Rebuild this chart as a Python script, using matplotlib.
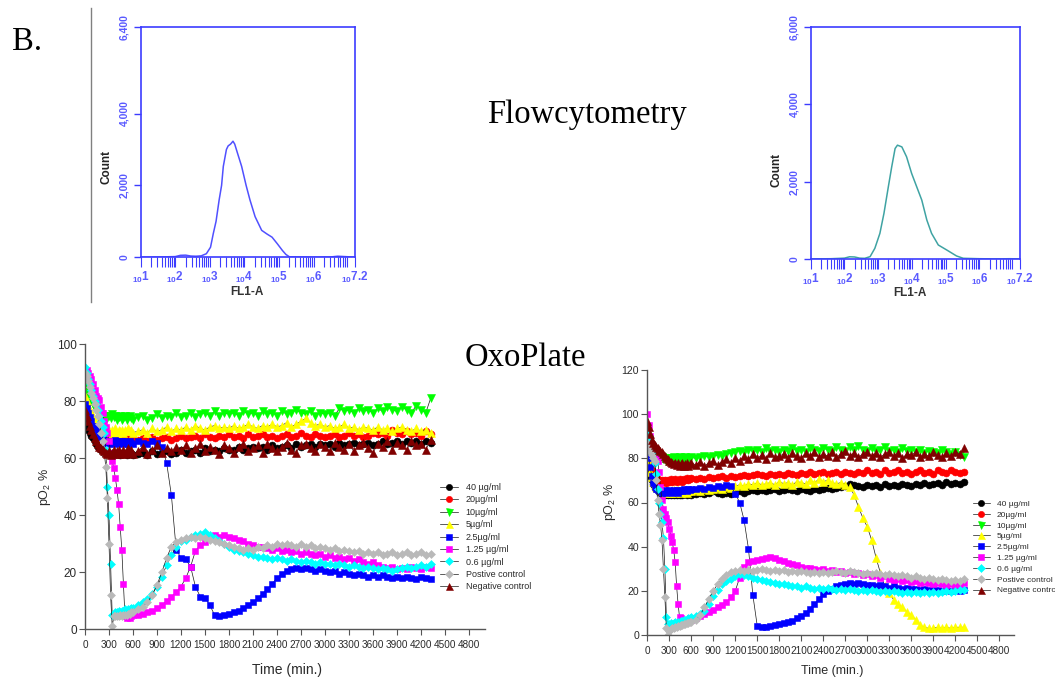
import numpy as np
import matplotlib.pyplot as plt
import matplotlib.ticker as mticker
from matplotlib.lines import Line2D

plt.rcParams['font.family'] = ['Liberation Sans', 'DejaVu Sans']
plt.rcParams['mathtext.default'] = 'regular'

# ---------------- flow cytometry histograms (FL1-A in log10 units) ----------------
fl_log_a = [1.0, 1.6, 2.0, 2.15, 2.3, 2.45, 2.6, 2.75, 2.9, 3.02, 3.10, 3.18, 3.27,
            3.34, 3.39, 3.48, 3.53, 3.60, 3.67, 3.72, 3.80, 3.92, 4.05, 4.16, 4.31,
            4.50, 4.65, 4.80, 4.95, 5.10, 5.20, 5.30, 5.6, 6.0, 6.5, 6.7, 6.8, 6.9, 7.2]
count_a = [5, 10, 20, 55, 60, 35, 30, 40, 100, 280, 660, 1000, 1600,
           2000, 2530, 3000, 3100, 3150, 3230, 3150, 2900, 2530, 2000, 1600, 1130,
           750, 650, 560, 380, 190, 80, 15, 10, 5, 10, 30, 25, 20, 5]

fl_log_b = [1.0, 1.6, 2.0, 2.15, 2.3, 2.45, 2.6, 2.76, 2.90, 3.05, 3.17, 3.30, 3.40,
            3.50, 3.57, 3.70, 3.84, 3.99, 4.14, 4.29, 4.44, 4.58, 4.78, 5.03, 5.32,
            5.52, 6.0, 6.5, 6.9, 7.2]
count_b = [10, 15, 30, 65, 60, 30, 25, 69, 283, 670, 1185, 1871, 2386,
           2858, 2944, 2900, 2644, 2215, 1871, 1528, 1013, 670, 369, 240, 86,
           26, 15, 10, 15, 10]

# ---------------- OxoPlate pO2 readings ----------------
time_min = [0, 20, 40, 60, 80, 100, 120, 140, 160, 180,
            200, 220, 240, 260, 280, 300, 320, 340, 360, 380,
            400, 420, 440, 460, 480, 500, 520, 540, 560, 580, 600,
            660, 720, 780, 840, 900, 960, 1020, 1080, 1140, 1200,
            1260, 1320, 1380, 1440, 1500, 1560, 1620, 1680, 1740, 1800,
            1860, 1920, 1980, 2040, 2100, 2160, 2220, 2280, 2340, 2400,
            2460, 2520, 2580, 2640, 2700, 2760, 2820, 2880, 2940, 3000,
            3060, 3120, 3180, 3240, 3300, 3360, 3420, 3480, 3540, 3600,
            3660, 3720, 3780, 3840, 3900, 3960, 4020, 4080, 4140, 4200, 4260, 4320]

# plate 1
p1_40 = [73, 71, 70, 69, 68, 67, 66, 65, 64, 63.5,
         63, 62.5, 62, 62, 61.5, 62, 61.5, 62, 61, 62,
         61.5, 62, 61, 62, 61.5, 62, 61, 62, 61.5, 62, 61,
         61.5, 62, 61, 62.5, 61.5, 62, 62.5, 61.5, 62, 63,
         62, 62.5, 63, 62, 63.5, 62.5, 63, 62.5, 63.5, 63,
         63, 64, 63, 63.5, 64, 63.5, 64, 63, 64.5, 63.5,
         64, 64.5, 63.5, 65, 64, 64.5, 65, 64, 65, 64.5,
         65, 64, 65.5, 64.5, 65, 65.5, 64.5, 65, 65.5, 64.5,
         65, 66, 65, 65.5, 66, 65, 66, 65.5, 66, 65, 66, 65.5]
p1_20 = [81, 79, 77, 75.5, 74, 72.5, 71, 70, 69, 68,
         67.5, 67, 66.5, 66, 66.5, 66, 66.5, 65.5, 66.5, 66,
         67, 66, 66.5, 67, 66, 66.5, 67, 66, 67, 66.5, 67,
         66.5, 67, 66, 67.5, 66.5, 67, 67.5, 66.5, 67, 68,
         67, 67.5, 68, 67, 68.5, 67.5, 67, 68, 67.5, 68.5,
         67.5, 68, 67, 68.5, 67.5, 68, 68.5, 67.5, 68, 67,
         68, 68.5, 67.5, 68, 69, 68, 67.5, 68.5, 68, 67.5,
         68, 68.5, 67.5, 68, 69, 68, 68.5, 67.5, 68, 69,
         68.5, 69, 68, 70, 69, 68.5, 69.5, 68.5, 69, 68, 69.5, 68.5]
p1_10 = [86, 84, 82.5, 81, 80, 79, 78, 77, 76.5, 76,
         75.5, 75, 74.5, 75, 74, 75, 74, 75.5, 74.5, 75,
         73.5, 74.5, 75, 73.5, 74, 75, 73.5, 74.5, 75, 74, 73.5,
         74.5, 75, 73.5, 74, 75.5, 74, 75, 74.5, 76, 74.5,
         75, 76, 74.5, 75.5, 76, 75, 76.5, 75, 76, 75.5,
         76, 75, 76.5, 75.5, 76, 75, 76.5, 75.5, 76, 75,
         76.5, 75.5, 76, 77, 76, 75.5, 76.5, 75, 76, 75.5,
         76, 75, 77.5, 76.5, 77, 76, 77.5, 76.5, 77, 76,
         77.5, 76.5, 78, 77, 76.5, 78, 77, 76, 78.5, 77, 76, 81]
p1_5 = [82, 80, 78.5, 77, 75.5, 74.5, 73.5, 72.5, 72, 71.5,
        71, 70.5, 70, 70.5, 69.5, 70, 69, 70, 69.5, 70.5,
        69, 70, 69.5, 70, 69, 70, 69.5, 70.5, 69.5, 70, 69,
        69.5, 70, 69, 70.5, 69.5, 70, 71, 69.5, 70.5, 70,
        71, 70, 71.5, 70.5, 70, 71, 71.5, 70.5, 71, 70.5,
        71.5, 70.5, 71, 72, 71, 70.5, 71.5, 71, 72, 71,
        71.5, 72.5, 71, 72, 73, 74, 72.5, 71.5, 72, 71,
        71.5, 70.5, 71, 72, 70.5, 71, 70, 71, 70.5, 70,
        71, 70, 70.5, 69.5, 70.5, 71, 70, 69.5, 70.5, 69.5, 70, 69]
p1_2p5 = [79, 77.5, 76, 74.5, 73, 71.5, 70.5, 69.5, 68.5, 68,
          67.5, 67, 66.5, 66, 65.5, 66, 65, 66, 65.5, 66.5,
          65, 66, 65.5, 66, 65, 66, 65.5, 65, 66, 65.5, 65,
          66, 65.5, 65, 66, 65.5, 64, 58.5, 47, 28, 25,
          24.5, 22, 15, 11.5, 11, 8.5, 5, 4.5, 5, 5.5,
          6, 6.5, 7.5, 8.5, 9.5, 11, 12.5, 14, 16, 18,
          19.5, 20.5, 21, 21.5, 21, 21.5, 21, 20.5, 21, 20.5,
          20, 20.5, 19.5, 20, 19.5, 19, 19.5, 19, 18.5, 19,
          18.5, 19, 18.5, 18, 18.5, 18, 18.5, 18, 17.5, 18.5, 18, 17.5]
p1_1p25 = [90, 91, 90, 89, 88, 86, 84, 82, 81, 80.5,
           78, 76, 73, 71, 69, 66, 62, 59, 56.5, 53,
           49, 44, 36, 28, 16, 4.5, 4, 4.5, 4, 4.5, 5,
           5, 5.5, 6, 6.5, 7.5, 8.5, 10, 11.5, 13, 15,
           18, 22, 27.5, 29.5, 30.5, 32, 33, 32.5, 33, 32.5,
           32, 31.5, 31, 30, 29.5, 29, 29, 28.5, 28, 28.5,
           27.5, 28, 27, 27.5, 26.5, 27, 26.5, 26, 26.5, 25.5,
           26, 25, 25.5, 24.5, 25, 24, 24.5, 23.5, 23, 23.5,
           22.5, 22, 21.5, 22, 21, 21.5, 21, 22, 21.5, 21, 22, 21.5]
p1_0p6 = [92, 90, 88, 86, 84, 82, 80, 79, 77, 75,
          73, 71, 69, 63, 50, 40, 23, 5, 5.5, 6,
          6, 6.5, 6, 6.5, 6.5, 7, 6.5, 7, 7, 7.5, 7.5,
          8.5, 9.5, 10.5, 12.5, 15, 18.5, 22.5, 26, 29, 31,
          31.5, 32.5, 33, 33.5, 34, 33, 32, 31, 30, 29,
          28, 27.5, 27, 26.5, 26, 25.5, 25.5, 25, 24.5, 25,
          24.5, 24, 24.5, 24, 23.5, 24, 23.5, 23, 23.5, 23,
          23, 22.5, 23, 22.5, 22, 22.5, 22, 21.5, 22, 21.5,
          21, 21.5, 21, 20.5, 21, 21.5, 22, 21.5, 22, 22.5, 22, 23]
p1_pos = [90, 89, 87, 85, 83, 81, 79, 77, 75, 72,
          69, 66, 62, 57, 46, 30, 12, 1, 4.5, 4.5,
          4.5, 4.5, 5, 4.5, 5, 5, 5, 5.5, 5.5, 6, 6,
          7, 8, 9.5, 12, 15.5, 20, 25, 29, 30.5, 31.5,
          32, 32.5, 32, 32.5, 32, 31.5, 31, 30.5, 30, 29.5,
          29, 28.5, 28, 28.5, 28, 29, 28.5, 29.5, 29, 30,
          29.5, 30, 29.5, 29, 30, 29, 29.5, 28.5, 29, 28.5,
          28, 28.5, 27.5, 28, 27.5, 27, 27.5, 26.5, 27, 26.5,
          27, 26, 26.5, 27, 26, 26.5, 27, 26, 26.5, 27, 26, 26.5]
p1_neg = [77, 75, 73, 71.5, 70, 68.5, 67, 66, 65, 64,
          63.5, 63, 62.5, 62, 61.5, 62.5, 61, 62, 63, 61.5,
          62.5, 63, 61.5, 62, 63, 61.5, 62.5, 63.5, 62, 63, 61.5,
          62.5, 64, 61.5, 63, 64.5, 62, 63.5, 62.5, 64, 63,
          64.5, 62, 63.5, 65, 62.5, 64, 63, 61.5, 64.5, 63.5,
          62, 64, 65, 62.5, 63.5, 64.5, 62, 65, 63.5, 62.5,
          64, 65.5, 63, 62, 64.5, 65, 63.5, 62.5, 65, 64,
          62.5, 65.5, 64, 63, 65, 62.5, 64.5, 65.5, 63.5, 62,
          65, 64, 66, 63, 65.5, 64.5, 63, 66, 64.5, 65, 63, 66.5]

# plate 2
p2_40 = [76, 74, 72, 70, 68.5, 67, 66, 65.5, 65, 64.5,
         64, 64.5, 63.5, 64, 63.5, 64, 63.5, 64, 63.5, 64,
         63.5, 64.5, 63.5, 64, 63.5, 64, 64.5, 63.5, 64, 64.5, 63.5,
         64, 64.5, 64, 64.5, 65, 64.5, 64, 64.5, 64, 64.5,
         65, 64.5, 65, 65.5, 65, 65.5, 65, 65.5, 66, 65,
         65.5, 66, 65.5, 65, 66, 65.5, 65, 66, 65.5, 66,
         66.5, 66, 66.5, 67, 67.5, 68.5, 68, 67.5, 67, 68,
         67.5, 68, 67, 68.5, 67.5, 68, 67.5, 68.5, 68, 67.5,
         68.5, 68, 69, 68, 68.5, 69, 68, 69.5, 68.5, 69, 68.5, 69.5]
p2_20 = [84, 80, 77, 74.5, 73, 72, 71, 70.5, 70, 69.5,
         70, 69.5, 70, 69, 70, 69.5, 70.5, 69.5, 70, 70.5,
         69.5, 70, 70.5, 70, 69.5, 70.5, 70, 71, 70, 70.5, 71,
         70.5, 71, 70.5, 71.5, 71, 71.5, 72, 71, 72, 71.5,
         72, 72.5, 72, 72.5, 73, 72.5, 72, 73, 72.5, 73,
         72.5, 73.5, 73, 72.5, 73.5, 73, 74, 73, 73.5, 74,
         73, 73.5, 74, 73, 74, 73.5, 73, 74, 73.5, 74.5,
         73.5, 74, 73, 74.5, 73.5, 74, 74.5, 73.5, 74, 73,
         74, 74.5, 73.5, 74, 73, 74.5, 74, 73.5, 74.5, 74, 73.5, 74]
p2_10 = [90, 88, 86, 84.5, 83, 82, 81.5, 81, 80.5, 80,
         80.5, 79.5, 80, 79, 80, 79.5, 80, 79, 80.5, 79.5,
         80, 79, 80.5, 79.5, 80, 79, 80.5, 80, 79.5, 80, 80.5,
         80, 80.5, 81, 80.5, 81, 81.5, 81, 82, 82.5, 83,
         83.5, 83, 84, 83.5, 84, 83, 84.5, 83.5, 84, 83,
         84, 83.5, 84.5, 83.5, 84, 83, 84.5, 84, 83.5, 84.5,
         84, 83.5, 85, 84, 83.5, 85, 84, 85.5, 84, 83.5,
         84.5, 83.5, 84, 85, 83.5, 84, 83, 84.5, 83.5, 84,
         83, 84, 82.5, 83.5, 83, 82.5, 84, 83, 82, 83, 81.5, 80.5]
p2_5 = [80, 77, 74, 71.5, 69.5, 68, 67, 66.5, 66, 65.5,
        65, 65.5, 64.5, 65, 64.5, 65, 64.5, 65, 65.5, 64.5,
        65, 65.5, 65, 64.5, 65, 65.5, 65, 64.5, 65, 65.5, 65,
        65.5, 65, 66, 65.5, 66, 66.5, 66, 67, 66.5, 67.5,
        68, 67.5, 68.5, 68, 69, 68, 68.5, 69, 68, 69.5,
        68.5, 69, 68, 69.5, 69, 68.5, 70, 69, 70.5, 69.5,
        70, 69, 68.5, 69, 68, 67, 63.5, 58, 53, 49,
        43, 35, 28, 22, 19, 16, 14, 12.5, 10.5, 9,
        7, 4.5, 3.5, 3, 3, 3.5, 3, 3.5, 3, 3.5, 3.5, 3.5]
p2_2p5 = [83, 80, 76, 72, 69, 67, 66, 65.5, 65, 65.5,
          64.5, 65, 65.5, 64.5, 65, 65.5, 65, 64.5, 65.5, 65,
          65.5, 64.5, 65, 65.5, 65, 66, 65.5, 65, 66, 65.5, 66,
          66, 66.5, 66, 67, 66.5, 67.5, 67, 68, 67.5, 64,
          60, 52, 39, 18, 4, 3.5, 3.5, 4, 4.5, 5,
          5.5, 6, 6.5, 7.5, 8.5, 10, 12, 14, 16.5, 18.5,
          20, 21, 22, 22.5, 23, 23.5, 23, 23.5, 23, 22.5,
          22.5, 22, 22.5, 22, 21.5, 22, 21.5, 21, 21.5, 21,
          21, 20.5, 21, 20.5, 21, 20.5, 20, 20.5, 20, 20.5, 20, 20.5]
p2_1p25 = [100, 95, 90, 86, 83, 81, 80, 79, 74, 67,
           61, 57, 55, 53, 51, 48, 45, 42, 38.5, 33,
           22, 14, 8, 7.5, 7, 6.5, 7, 6.5, 7, 7.5, 7,
           7.5, 8.5, 9.5, 10.5, 11.5, 12.5, 13.5, 15, 17, 20,
           26, 31, 33, 33.5, 34, 34.5, 35, 35.5, 35, 34,
           33.5, 32.5, 32, 31.5, 31, 30.5, 30.5, 30, 29.5, 30,
           29, 29.5, 28.5, 29, 28, 28.5, 27.5, 28, 27, 27.5,
           26.5, 27, 26, 26.5, 25.5, 25, 25.5, 24.5, 25, 24,
           24.5, 23.5, 24, 23.5, 23, 23.5, 23, 22.5, 23, 22.5, 23, 23.5]
p2_0p6 = [92, 90, 88, 85, 82, 78, 73, 66, 60, 55,
          51, 44, 30, 8, 5, 5, 5.5, 5, 5.5, 6,
          5.5, 6, 6, 6.5, 6.5, 7, 7, 7, 7.5, 7.5, 8,
          8.5, 9.5, 11, 14, 17.5, 20.5, 23, 24.5, 25.5, 26.5,
          27.5, 27, 26.5, 26, 25.5, 25, 24.5, 24, 23.5, 23,
          23, 22.5, 22, 22, 21.5, 22, 21.5, 21, 21.5, 21,
          21.5, 21, 20.5, 21, 20.5, 21, 20.5, 20, 20.5, 20,
          20.5, 20, 19.5, 20, 19.5, 20, 19.5, 19, 19.5, 19,
          19.5, 19, 19.5, 19, 19.5, 19, 19.5, 20, 19.5, 20, 20.5, 20.5]
p2_pos = [87, 85, 83, 81.5, 80, 79, 70, 61, 55, 50,
          43, 30, 17, 3, 0, 2, 2.5, 3, 3, 3.5,
          3.5, 4, 4, 4.5, 4.5, 5, 5, 5.5, 5.5, 6, 6,
          7, 9, 12.5, 16.5, 20, 23, 25.5, 27, 28.5, 29,
          29.5, 29, 29.5, 29, 29.5, 30, 29.5, 29, 29.5, 29,
          29.5, 28.5, 29, 28.5, 29, 28.5, 28, 28.5, 28, 28.5,
          28, 28.5, 29, 28.5, 28, 29, 28.5, 28, 27.5, 28,
          27.5, 28, 27.5, 27, 27.5, 27, 26.5, 27, 26.5, 26,
          26.5, 26, 25.5, 26, 25.5, 25, 25.5, 25, 24.5, 25, 24.5, 25.5]
p2_neg = [97, 94, 91, 88.5, 87, 86, 85, 84.5, 84, 83.5,
          83, 82, 81, 80, 79.5, 79, 78.5, 78, 77.5, 78,
          77, 78, 76.5, 77.5, 78, 76.5, 77.5, 78, 76.5, 77.5, 78,
          77, 78.5, 76.5, 78, 79, 77, 78.5, 79.5, 78, 80,
          79, 81, 79.5, 82, 80, 81.5, 79.5, 82.5, 80.5, 81,
          82, 80, 82.5, 81, 80, 82.5, 81, 83, 80.5, 82,
          81, 83, 80.5, 82, 83.5, 81, 82.5, 80.5, 82, 83,
          81, 82.5, 80.5, 82, 83, 81, 82.5, 80, 82, 81.5,
          83, 80.5, 82, 81, 83, 81.5, 80.5, 82.5, 81, 83, 82, 84.5]

labels_p1 = ["40 µg/ml", "20µg/ml", "10µg/ml", "5µg/ml", "2.5µg/ml",
             "1.25 µg/ml", "0.6 µg/ml", "Postive control", "Negative control"]
labels_p2 = ["40 µg/ml", "20µg/ml", "10µg/ml", "5µg/ml", "2.5µg/ml",
             "1.25 µg/ml", "0.6 µg/ml", "Postive control", "Negative contro"]

# colour / marker per treatment
colors = ["#000000", "#ff0000", "#00ff00", "#ffff00", "#0000ff",
          "#ff00ff", "#00ffff", "#b9b9b9", "#800000"]
markers = ["o", "o", "v", "^", "s", "s", "D", "D", "^"]
msizes = [5.0, 5.0, 5.6, 5.6, 4.8, 4.8, 4.4, 4.4, 5.6]

W, H = 1055, 680
fig = plt.figure(figsize=(W / 100, H / 100), dpi=100)


def add_px_axes(left, top, right, bottom):
    return fig.add_axes([left / W, 1 - bottom / H, (right - left) / W, (bottom - top) / H])


def fig_text(x, y, s, **kw):
    return fig.text(x / W, 1 - y / H, s, **kw)


FLOW_BLUE = "#3c3cff"
FLOW_LABEL = "#5a5aff"


def flow_panel(ax, log_x, counts, color, ymax, yticks):
    ax.plot(10 ** np.array(log_x), counts, color=color, lw=1.1)
    ax.set_xscale("log")
    ax.set_xlim(10, 10 ** 7.2)
    ax.set_ylim(0, ymax)
    for sp in ax.spines.values():
        sp.set_color(FLOW_BLUE)
        sp.set_linewidth(1.2)
    ax.set_yticks(yticks)
    ax.set_yticklabels([f"{v:,}" for v in yticks], rotation=90, va="center",
                       color=FLOW_LABEL, fontsize=7.5, fontweight="bold")
    ax.set_xticks([10 ** k for k in range(1, 7)] + [10 ** 7.2])
    ax.set_xticklabels([r"$_{10}$%d" % k for k in range(1, 7)] + [r"$_{10}$7.2"],
                       color=FLOW_LABEL, fontsize=8.5, fontweight="bold")
    ax.xaxis.set_minor_locator(mticker.LogLocator(base=10, subs=np.arange(2, 10), numticks=50))
    ax.xaxis.set_minor_formatter(mticker.NullFormatter())
    ax.tick_params(axis="x", which="both", direction="out", length=7, width=0.8,
                   color=FLOW_BLUE, pad=2)
    ax.tick_params(axis="y", direction="out", length=5, width=1.0, color=FLOW_BLUE, pad=3)


ax_f1 = add_px_axes(140.7, 27.3, 355, 257.3)
flow_panel(ax_f1, fl_log_a, count_a, "#5050ff", 6400, [0, 2000, 4000, 6400])
fig_text(106.7, 166.7, "Count", rotation=90, ha="center", va="center",
         fontsize=8.5, fontweight="bold", color="#222222")
fig_text(246.7, 291.7, "FL1-A", ha="center", va="center",
         fontsize=8.5, fontweight="bold", color="#333333")

ax_f2 = add_px_axes(810.7, 26.7, 1020, 259.3)
flow_panel(ax_f2, fl_log_b, count_b, "#3fa3a3", 6000, [0, 2000, 4000, 6000])
fig_text(776.7, 170, "Count", rotation=90, ha="center", va="center",
         fontsize=8.5, fontweight="bold", color="#222222")
fig_text(910, 293, "FL1-A", ha="center", va="center",
         fontsize=8.5, fontweight="bold", color="#333333")

# separator next to panel letter
fig.add_artist(Line2D([90.7 / W, 90.7 / W], [1 - 8 / H, 1 - 302 / H],
                      color="#808080", lw=1.0))

SERIF = ["Liberation Serif", "DejaVu Serif"]
fig_text(12, 50, "B.", family=SERIF, fontsize=23.5, va="baseline")
fig_text(487, 123, "Flowcytometry", family=SERIF, fontsize=23.5, va="baseline")
fig_text(465, 366.5, "OxoPlate", family=SERIF, fontsize=23.5, va="baseline")

AX_GREY = "#555555"
TXT = "#2a2a2a"


def oxo_panel(ax, series, labels, ymax, xsize, ysize, legend_xy, leg_size, spacing):
    for vals, lab, c, m, ms in zip(series, labels, colors, markers, msizes):
        ax.plot(time_min, vals, color="#1a1a1a", lw=0.5, marker=m, ms=ms,
                mfc=c, mec=c, mew=0.4, label=lab)
    ax.set_xlim(0, 5000)
    ax.set_ylim(0, ymax)
    ax.set_xticks(range(0, 4801, 300))
    ax.set_yticks(range(0, ymax + 1, 20))
    for side in ("top", "right"):
        ax.spines[side].set_visible(False)
    for side in ("left", "bottom"):
        ax.spines[side].set_color(AX_GREY)
        ax.spines[side].set_linewidth(1.0)
    ax.tick_params(axis="x", direction="out", length=4, color=AX_GREY,
                   labelsize=xsize, labelcolor=TXT, pad=4)
    ax.tick_params(axis="y", direction="out", length=4, color=AX_GREY,
                   labelsize=ysize, labelcolor=TXT, pad=2)
    leg = ax.legend(loc="upper left", bbox_to_anchor=(legend_xy[0] / W, 1 - legend_xy[1] / H),
                    bbox_transform=fig.transFigure, frameon=False, fontsize=leg_size,
                    handlelength=2.0, handletextpad=0.85, labelspacing=spacing,
                    borderpad=0, borderaxespad=0, markerscale=0.9)
    for t in leg.get_texts():
        t.set_color(TXT)


ax_o1 = add_px_axes(85, 344.3, 485, 629.3)
oxo_panel(ax_o1, [p1_40, p1_20, p1_10, p1_5, p1_2p5, p1_1p25, p1_0p6, p1_pos, p1_neg],
          labels_p1, 100, 7.2, 8.5, (440, 483), 6.5, 0.38)
fig_text(286.7, 670, "Time (min.)", ha="center", va="center", fontsize=10, color=TXT)
fig_text(45, 487, r"pO$_2$ %", rotation=90, ha="center", va="center", fontsize=9, color=TXT)

ax_o2 = add_px_axes(647.3, 370, 1013.9, 635)
oxo_panel(ax_o2, [p2_40, p2_20, p2_10, p2_5, p2_2p5, p2_1p25, p2_0p6, p2_pos, p2_neg],
          labels_p2, 120, 7.2, 7.6, (973, 500), 6, 0.36)
fig_text(831.7, 670.7, "Time (min.)", ha="center", va="center", fontsize=9, color=TXT)
fig_text(610, 501.7, r"pO$_2$ %", rotation=90, ha="center", va="center", fontsize=9, color=TXT)

fig.savefig("out.png", dpi=100, facecolor="white")
